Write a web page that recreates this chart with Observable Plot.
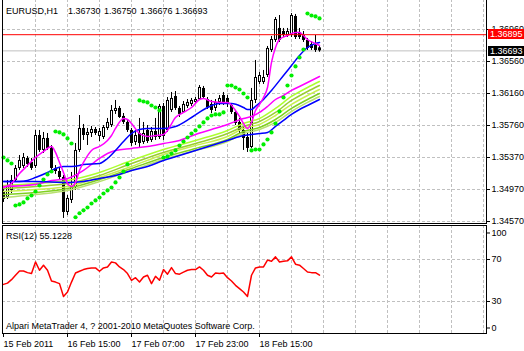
<!DOCTYPE html>
<html><head><meta charset="utf-8">
<script src="https://cdn.jsdelivr.net/npm/d3@7"></script>
<script src="https://cdn.jsdelivr.net/npm/@observablehq/plot@0.6"></script>
<style>
body{margin:0;background:#fff;}
#wrap{position:relative;width:524px;height:351px;overflow:hidden;background:#fff;font-family:"Liberation Sans",Arial,sans-serif;font-size:9px;color:#000;}
#main{position:absolute;left:0;top:-1px;}
#rsi{position:absolute;left:0;top:225px;}
.lbl{position:absolute;white-space:nowrap;line-height:11px;}
.box{position:absolute;left:488px;width:36px;height:10px;line-height:10px;color:#fff;padding-left:2px;box-sizing:border-box;white-space:nowrap;}
</style></head>
<body><div id="wrap"><div id="main"></div><div id="rsi"></div></div>
<script>
// ---- data ----
const opens=[1.34923,1.34860,1.34948,1.35073,1.35223,1.35248,1.35348,1.35298,1.35248,1.35635,
1.35448,1.35598,1.35473,1.35223,1.35185,1.35110,1.34673,1.34823,1.34985,1.35448,
1.35723,1.35635,1.35660,1.35710,1.35623,1.35610,1.35723,1.35760,1.35935,1.35973,
1.35873,1.35798,1.35698,1.35548,1.35660,1.35548,1.35698,1.35573,1.35685,1.35610,
1.35998,1.35698,1.35948,1.36123,1.35973,1.35923,1.35998,1.36023,1.36048,1.36085,
1.36223,1.36085,1.36023,1.35973,1.36048,1.36135,1.36098,1.36010,1.35923,1.35798,
1.35698,1.35610,1.35485,1.36073,1.36298,1.36298,1.36385,1.36698,1.36823,1.36973,
1.36935,1.36885,1.36885,1.37123,1.36923,1.36885,1.36823,1.36773,1.36760,1.36730];
const highs=[1.34973,1.35073,1.35135,1.35260,1.35385,1.35410,1.35373,1.35348,1.35698,1.35698,
1.35673,1.35660,1.35510,1.35260,1.35223,1.35135,1.34885,1.35173,1.35535,1.35885,
1.35773,1.35723,1.35748,1.35735,1.35723,1.35760,1.35848,1.36010,1.36073,1.35998,
1.35910,1.35835,1.35723,1.35698,1.35848,1.35798,1.35760,1.35735,1.35848,1.36023,
1.36035,1.36110,1.36173,1.36185,1.35998,1.36060,1.36085,1.36098,1.36110,1.36260,
1.36248,1.36110,1.36073,1.36085,1.36135,1.36173,1.36135,1.36023,1.35948,1.35848,
1.35735,1.35660,1.36223,1.36573,1.36423,1.36448,1.36748,1.36873,1.37110,1.37135,
1.36973,1.36973,1.37160,1.37148,1.36973,1.36935,1.36848,1.36810,1.36885,1.36750];
const lows=[1.34798,1.34835,1.34910,1.35048,1.35198,1.35223,1.35235,1.35198,1.35223,1.35423,
1.35410,1.35448,1.35185,1.35148,1.35073,1.34598,1.34635,1.34785,1.34948,1.35423,
1.35573,1.35510,1.35610,1.35635,1.35560,1.35585,1.35698,1.35735,1.35898,1.35848,
1.35773,1.35673,1.35498,1.35510,1.35485,1.35523,1.35535,1.35548,1.35573,1.35585,
1.35573,1.35673,1.35923,1.35948,1.35860,1.35910,1.35973,1.35998,1.36023,1.36073,
1.36085,1.35960,1.35910,1.35935,1.36010,1.36010,1.35985,1.35898,1.35760,1.35660,
1.35448,1.35423,1.35473,1.36035,1.36273,1.36273,1.36360,1.36673,1.36798,1.36798,
1.36860,1.36860,1.36860,1.36835,1.36835,1.36798,1.36698,1.36698,1.36673,1.36676];
const closes=[1.34835,1.35010,1.35073,1.35223,1.35323,1.35360,1.35273,1.35223,1.35635,1.35448,
1.35598,1.35473,1.35223,1.35185,1.35110,1.34673,1.34848,1.35010,1.35448,1.35723,
1.35635,1.35673,1.35710,1.35660,1.35685,1.35735,1.35798,1.35948,1.35973,1.35860,
1.35798,1.35698,1.35535,1.35635,1.35535,1.35660,1.35560,1.35685,1.35610,1.35998,
1.35623,1.36073,1.36098,1.35973,1.35898,1.36023,1.36048,1.36073,1.36085,1.36235,
1.36110,1.35985,1.35948,1.36048,1.36098,1.36035,1.36023,1.35923,1.35785,1.35698,
1.35598,1.35473,1.36073,1.36360,1.36385,1.36360,1.36723,1.36835,1.37085,1.36823,
1.36885,1.36935,1.37135,1.36860,1.36860,1.36823,1.36723,1.36723,1.36698,1.36693];

const sarValues=[1.35360,1.35323,1.35285,
1.34760,1.34773,1.34798,1.34848,1.34885,1.34935,1.35010,1.35085,1.35148,1.35185,
1.35685,1.35673,1.35648,1.35598,1.35535,
1.34613,1.34663,1.34700,1.34735,1.34785,1.34823,1.34860,1.34910,1.34948,1.34985,1.35048,1.35110,1.35185,1.35273,
null,null,
1.36073,1.36060,1.36048,1.36010,1.35985,1.35948,
1.35360,1.35373,1.35410,1.35448,1.35510,1.35560,1.35610,1.35660,1.35698,1.35748,1.35798,1.35848,1.35885,1.35898,1.35898,1.35923,
1.36260,1.36260,1.36235,1.36210,1.36160,1.36110,
1.35448,1.35460,1.35460,1.35523,1.35585,1.35673,1.35785,1.35935,1.36110,1.36260,1.36385,1.36498,1.36610,1.36710,
1.37160,1.37135,1.37123,1.37098];

const rsiValues=[46.3,47.5,50.8,55.0,59.0,59.0,57.5,56.6,67.7,59.8,
64.6,59.8,49.5,48.5,47.0,34.8,39.0,48.5,57.2,58.8,
60.4,61.4,62.0,62.0,58.8,62.0,62.9,67.7,66.8,62.9,
60.4,56.6,50.2,52.7,48.5,53.3,55.0,47.0,54.0,50.2,
60.4,56.0,62.3,56.6,56.0,58.0,59.8,60.4,60.4,62.9,
59.8,55.0,53.3,57.2,56.6,57.2,52.7,49.5,45.4,42.2,
39.0,34.8,55.0,62.0,62.9,62.9,69.4,68.4,72.5,67.7,
68.4,68.7,72.5,65.5,64.6,61.4,58.1,57.5,57.5,55.1228];

// moving averages read at sample bars: [bar, price]
const maFastPts=[[0,1.34985],[2,1.35035],[4,1.35160],[6,1.35260],[8,1.35360],[10,1.35435],[12,1.35498],[13,1.35423],[14,1.35298],[15,1.35173],[16,1.35035],[17,1.34998],[18,1.35048],[19,1.35198],[20,1.35298],[22,1.35448],[24,1.35498],[26,1.35573],[27,1.35635],[28,1.35723],[30,1.35848],[31,1.35835],[32,1.35785],[34,1.35660],[36,1.35623],[38,1.35635],[40,1.35648],[41,1.35698],[43,1.35860],[45,1.35923],[47,1.35985],[49,1.36085],[50,1.36098],[52,1.36060],[55,1.36048],[56,1.36048],[58,1.35948],[59,1.35873],[60,1.35785],[61,1.35723],[62,1.35798],[63,1.35948],[64,1.36023],[65,1.36110],[66,1.36235],[67,1.36548],[68,1.36735],[69,1.36835],[71,1.36885],[73,1.36923],[74,1.36923],[75,1.36885],[76,1.36835],[78,1.36785],[79,1.36760]];
const maMidPts=[[0,1.35060],[4,1.35060],[6,1.35073],[8,1.35110],[11,1.35173],[13,1.35223],[15,1.35248],[17,1.35248],[19,1.35260],[20,1.35273],[24,1.35285],[26,1.35348],[28,1.35448],[30,1.35560],[32,1.35660],[34,1.35710],[36,1.35723],[40,1.35723],[43,1.35748],[47,1.35860],[51,1.35985],[54,1.36035],[57,1.36035],[60,1.35985],[61,1.35960],[62,1.35960],[63,1.35998],[65,1.36085],[67,1.36198],[70,1.36385],[72,1.36510],[74,1.36635],[76,1.36735],[78,1.36785],[79,1.36798]];
const maSlowPts=[[0,1.35060],[8,1.35060],[16,1.35048],[20,1.35060],[24,1.35098],[28,1.35135],[32,1.35198],[36,1.35248],[40,1.35323],[44,1.35385],[48,1.35448],[52,1.35510],[56,1.35573],[60,1.35635],[62,1.35648],[64,1.35660],[66,1.35673],[68,1.35748],[70,1.35823],[72,1.35898],[74,1.35960],[76,1.36010],[79,1.36085]];
const ribbonMagentaPts=[[0,1.34998],[8,1.35023],[12,1.35073],[16,1.35098],[20,1.35198],[22,1.35273],[24,1.35348],[26,1.35410],[28,1.35448],[32,1.35473],[36,1.35498],[40,1.35535],[44,1.35573],[48,1.35648],[52,1.35710],[56,1.35773],[60,1.35848],[62,1.35873],[64,1.35923],[66,1.35998],[68,1.36085],[70,1.36135],[72,1.36198],[74,1.36248],[76,1.36298],[79,1.36373]];
const ribbonIdx=[0,8,16,24,32,40,48,56,60,64,68,72,76,79];
const green1=[1.35010,1.35035,1.35073,1.35173,1.35323,1.35460,1.35573,1.35698,1.35785,1.35848,1.35973,1.36123,1.36235,1.36310];
const green2=[1.34973,1.34998,1.35035,1.35135,1.35285,1.35423,1.35535,1.35660,1.35748,1.35810,1.35923,1.36073,1.36185,1.36260];
const green3=[1.34935,1.34960,1.34998,1.35110,1.35248,1.35398,1.35510,1.35623,1.35723,1.35773,1.35885,1.36023,1.36135,1.36210];
const green4=[1.34898,1.34923,1.34973,1.35085,1.35223,1.35360,1.35473,1.35585,1.35685,1.35735,1.35835,1.35973,1.36085,1.36160];
const green5=[1.34860,1.34898,1.34948,1.35060,1.35198,1.35335,1.35448,1.35560,1.35660,1.35710,1.35798,1.35935,1.36048,1.36123];
const greenColors=["#adff2f","#9acd32","#c8f050","#80d020","#b8e070"];

const priceTicks=[1.3696,1.3656,1.3616,1.3576,1.3536,1.3496,1.3456];
const priceTickLabels=["1.36960","1.36560","1.36160","1.35760","1.35370","1.34970","1.34570"];
const gridIdx=[8,16,24,32,40,48,56,64,72,80,88,96,104,112,120];
const timeTickIdx=[0,16,32,48,64];
const timeTickLabels=["15 Feb 2011","16 Feb 15:00","17 Feb 07:00","17 Feb 23:00","18 Feb 15:00"];
const rsiGrid=[70,30];
const redLevel=1.36895, bidLevel=1.36693;
const headerTexts=["EURUSD,H1","1.36730","1.36750","1.36676","1.36693"];
const rsiTitle="RSI(12) 55.1228";
const watermark="Alpari MetaTrader 4, ? 2001-2010 MetaQuotes Software Corp.";

// ---- build ----
const candles=opens.map((o,i)=>({i,open:o,high:highs[i],low:lows[i],close:closes[i]}));
const bulls=candles.filter(d=>d.close>d.open);
const sar=sarValues.map((v,i)=>({i,v})).filter(d=>d.v!=null);
const pts=a=>a.map(([i,v])=>({i,v}));
const rib=a=>a.map((v,k)=>({i:ribbonIdx[k],v}));
const priceLabel=new Map(priceTicks.map((t,k)=>[t,priceTickLabels[k]]));
const timeLabel=new Map(timeTickIdx.map((t,k)=>[t,timeTickLabels[k]]));
const xDomain=[-0.25,120.75];
const font='"Liberation Sans",Arial,sans-serif';
const dash={stroke:"#c0c0c0",strokeDasharray:"3,2"};

const main=Plot.plot({
  width:524,height:225,marginLeft:2,marginRight:38,marginTop:0,marginBottom:1,
  style:{fontFamily:font,fontSize:"9px",background:"transparent",color:"#000",overflow:"visible"},
  x:{domain:xDomain,axis:null},
  y:{domain:[1.34535,1.37335],axis:null},
  marks:[
    Plot.ruleX(gridIdx,dash),
    Plot.ruleY(priceTicks,dash),
    Plot.ruleY([bidLevel],{stroke:"#c0c0c0"}),
    Plot.ruleX(candles,{x:"i",y1:"low",y2:"high",stroke:"#000"}),
    Plot.ruleX(candles,{x:"i",y1:"open",y2:"close",stroke:"#000",strokeWidth:3}),
    Plot.ruleX(bulls,{x:"i",y1:"close",y2:"open",stroke:"#fff",strokeWidth:1,insetTop:1,insetBottom:1}),
    ...[green5,green4,green3,green2,green1].map((g,k)=>Plot.line(rib(g),{x:"i",y:"v",stroke:greenColors[4-k],curve:"monotone-x"})),
    Plot.line(pts(ribbonMagentaPts),{x:"i",y:"v",stroke:"#ff00ff",curve:"monotone-x"}),
    Plot.line(pts(maSlowPts),{x:"i",y:"v",stroke:"#0000ff",curve:"monotone-x"}),
    Plot.line(pts(maMidPts),{x:"i",y:"v",stroke:"#0000ff",curve:"monotone-x"}),
    Plot.line(pts(maFastPts),{x:"i",y:"v",stroke:"#ff00ff",curve:"monotone-x"}),
    Plot.ruleY([redLevel],{stroke:"#ff0000"}),
    Plot.dot(sar,{x:"i",y:"v",r:2.1,fill:"#00ee00"}),
    Plot.axisY(priceTicks,{anchor:"right",label:null,tickSize:3,tickPadding:2,tickFormat:d=>priceLabel.get(d)}),
    Plot.frame({stroke:"#000"})
  ]
});
document.getElementById("main").appendChild(main);

const rsi=Plot.plot({
  width:524,height:126,marginLeft:2,marginRight:38,marginTop:0,marginBottom:18,
  style:{fontFamily:font,fontSize:"9px",background:"transparent",color:"#000",overflow:"visible"},
  x:{domain:xDomain,axis:null},
  y:{domain:[-0.476,102.38],axis:null},
  marks:[
    Plot.ruleX(gridIdx,dash),
    Plot.ruleY(rsiGrid,dash),
    Plot.line(rsiValues.map((v,i)=>({i,v})),{x:"i",y:"v",stroke:"#ff0000"}),
    Plot.axisY(rsiGrid,{anchor:"right",label:null,tickSize:3,tickPadding:2}),
    Plot.axisY([100],{anchor:"right",label:null,tickSize:3,tickPadding:2,dy:5}),
    Plot.axisY([0],{anchor:"right",label:null,tickSize:3,tickPadding:2,dy:-5}),
    Plot.axisX(timeTickIdx,{anchor:"bottom",label:null,tickSize:4,tickPadding:3,textAnchor:"start",tickFormat:d=>timeLabel.get(d)}),
    Plot.frame({stroke:"#000"})
  ]
});
document.getElementById("rsi").appendChild(rsi);

// ---- text overlays ----
const wrap=document.getElementById("wrap");
function addText(txt,left,top,cls){const d=document.createElement("div");d.className=cls||"lbl";d.textContent=txt;d.style.left=left+"px";d.style.top=top+"px";wrap.appendChild(d);return d;}
const headerX=[6,68,104,140,175];
headerTexts.forEach((t,k)=>addText(t,headerX[k],5.5));
addText(rsiTitle,6,230.5);
addText(watermark,6,321);
const ys=main.scale("y");
const yRed=ys.apply(redLevel)-1, yBid=ys.apply(bidLevel)-1;
const rb=addText(redLevel.toFixed(5),488,Math.round(yRed-5),"box");rb.style.background="#ff0000";
const bb=addText(bidLevel.toFixed(5),488,Math.round(yBid-4.5),"box");bb.style.background="#000";
</script>
</body></html>
